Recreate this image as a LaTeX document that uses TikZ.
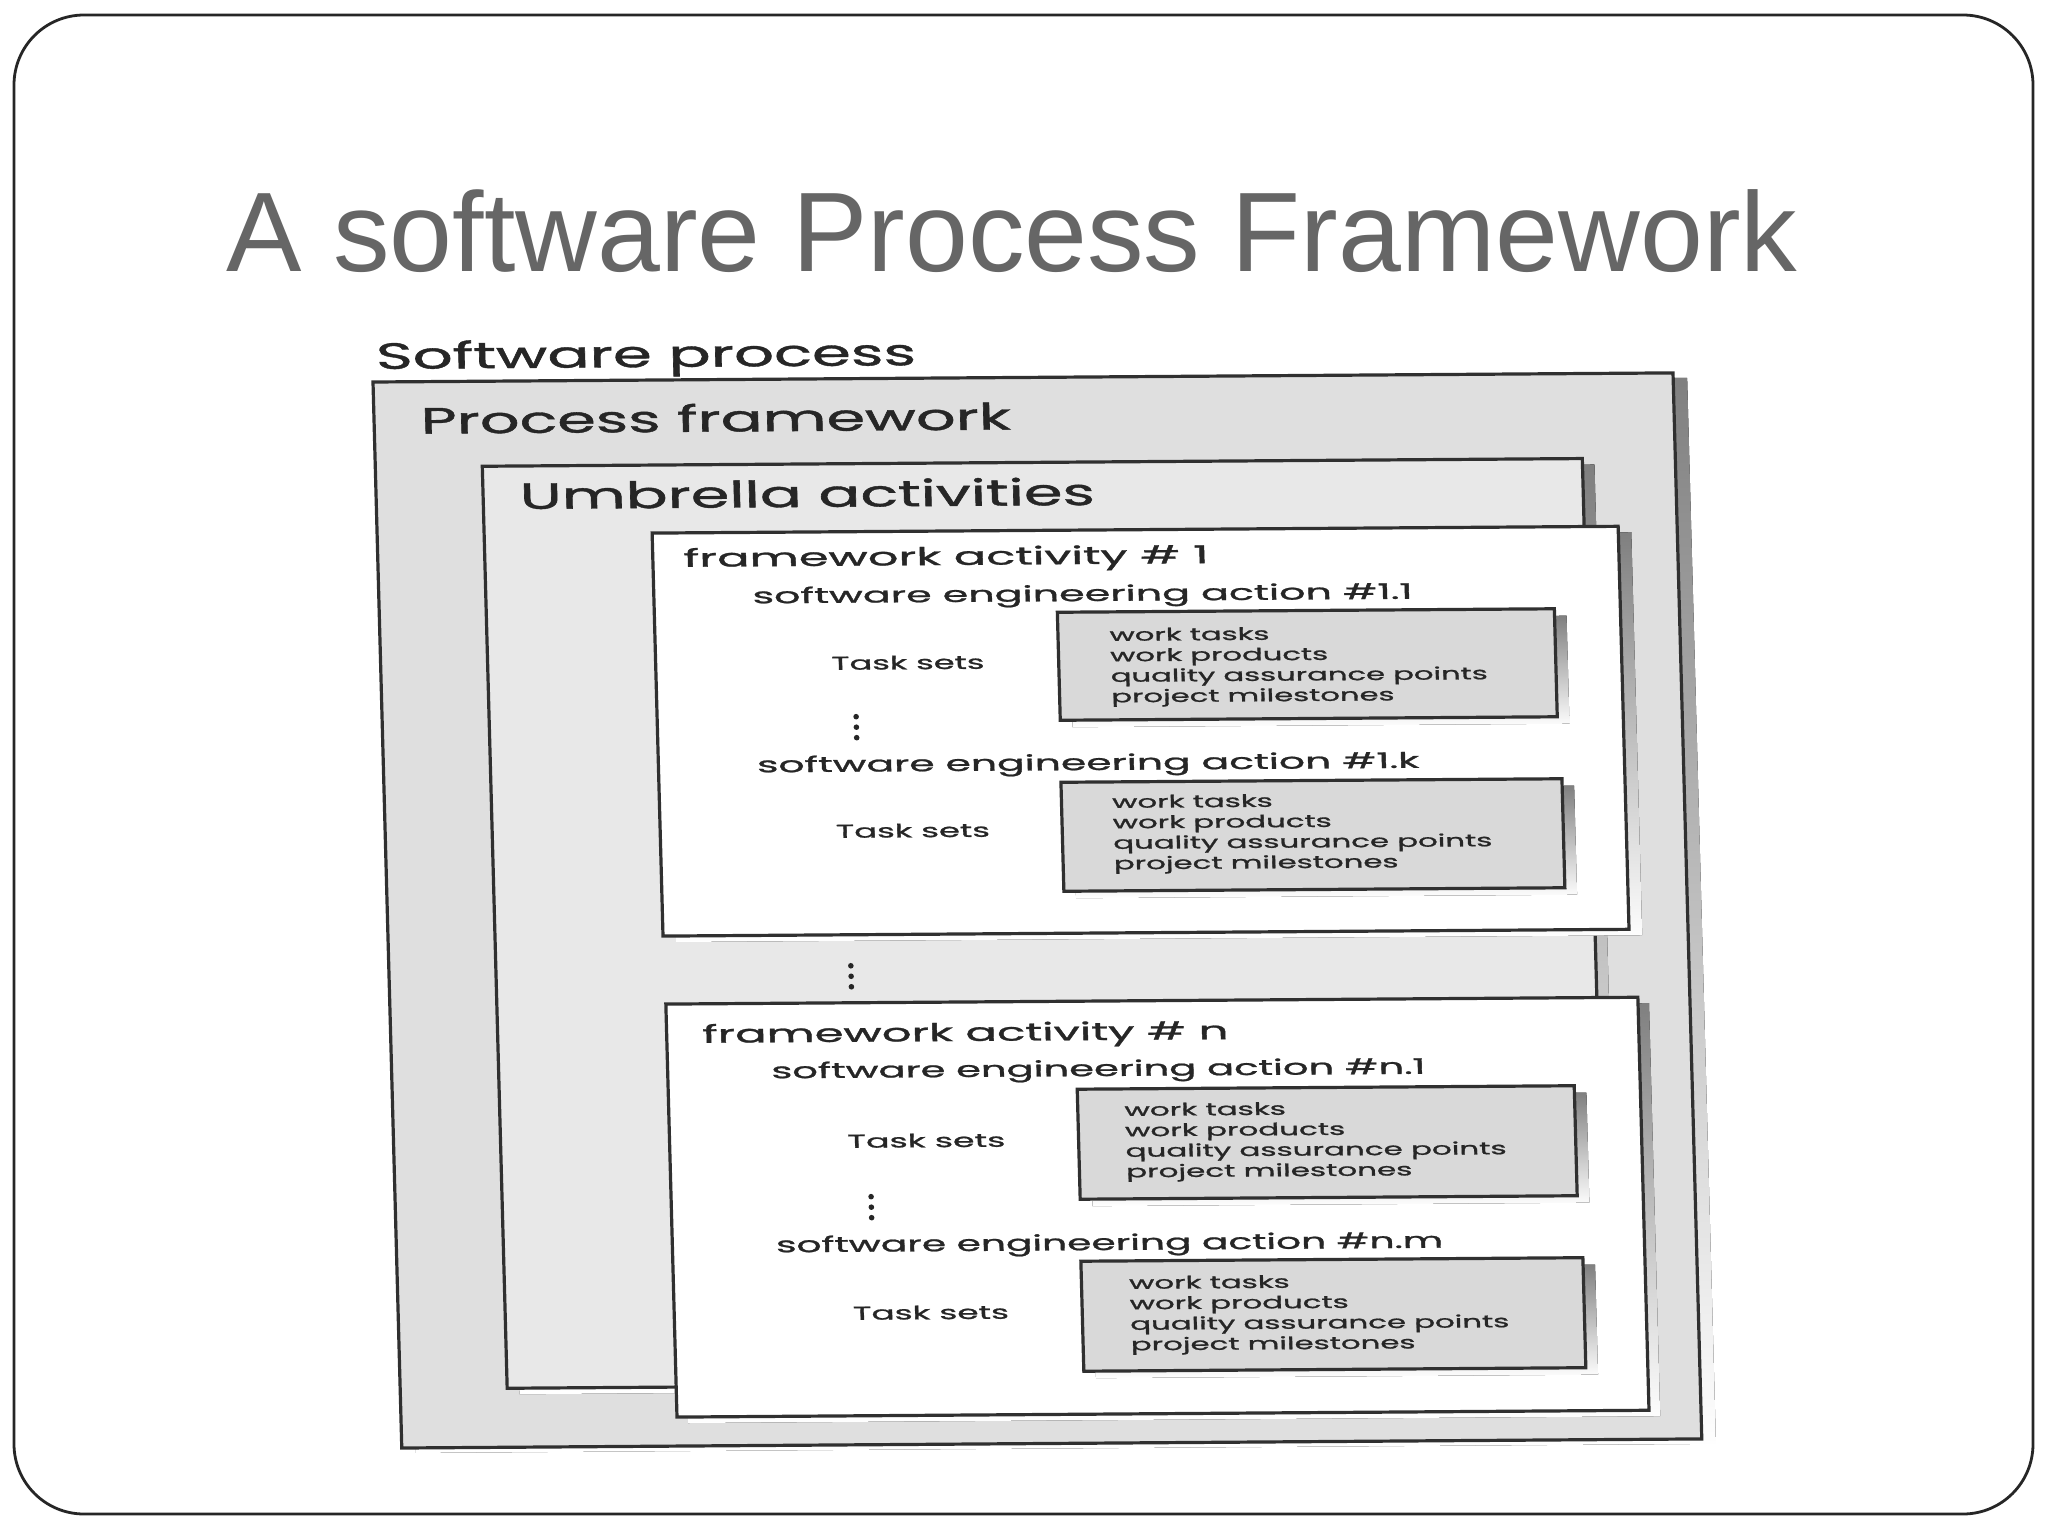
\documentclass[tikz,border=0pt]{standalone}
\usepackage{fontspec}
\setmainfont{Liberation Sans}
\newfontfamily\fut{Poppins}[FakeBold=1.0]
\usepackage{graphicx}
\newlength\pxu \setlength\pxu{0.01cm}
\newcommand{\fitw}[2]{\resizebox{#1\pxu}{\height}{#2}}
\newcommand{\fbig}{\fut\fontsize{10.4pt}{12pt}\selectfont}
\newcommand{\ffw}{\fut\fontsize{7.0pt}{8.4pt}\selectfont}
\newcommand{\fsea}{\fut\fontsize{6.1pt}{7.3pt}\selectfont}
\newcommand{\fts}{\fut\fontsize{5.3pt}{6.4pt}\selectfont}
\newcommand{\tasklist}[1]{\fitw{#1}{\fut\fontsize{4.9pt}{5.83pt}\selectfont\begin{tabular}[t]{@{}l@{}}work tasks\\work products\\quality assurance points\\project milestones\end{tabular}}}
\definecolor{titlegray}{HTML}{666666}
\definecolor{ink}{HTML}{262626}
\definecolor{edge}{HTML}{303030}
\definecolor{shade}{HTML}{3A3A3A}
\definecolor{outerfill}{HTML}{DFDFDF}
\definecolor{umbfill}{HTML}{E8E8E8}
\definecolor{taskfill}{HTML}{D9D9D9}
\tikzset{
  lbl/.style={inner sep=0pt, anchor=base west, text=ink, transform shape},
  boxline/.style={draw=edge, line width=3.2\pxu},
  slideframe/.style={draw=black!85, line width=2.8\pxu, rounded corners=70\pxu},
  titletext/.style={inner sep=0pt, anchor=base west, text=titlegray, font=\fontsize{32.15pt}{38pt}\selectfont},
  dotmark/.style={fill=ink},
}
\newcommand{\shbox}[7]{%
  \fill[shade] ({#1+#5},{#2+#6}) rectangle ({#3+#5},{#4+#6});
  \draw[boxline,fill=#7] (#1,#2) rectangle (#3,#4);}
\newcommand{\vdotsat}[2]{%
  \fill[dotmark] (#1,{#2}) circle[radius=2.8\pxu];
  \fill[dotmark] (#1,{#2+10.5}) circle[radius=2.8\pxu];
  \fill[dotmark] (#1,{#2+21}) circle[radius=2.8\pxu];}
\begin{document}
\begin{tikzpicture}[x=0.01cm,y=-0.01cm]
\useasboundingbox (0,0) rectangle (2048,1536);
\fill[white] (0,0) rectangle (2048,1536);
\draw[slideframe] (14,15) rectangle (2033,1514);
\node[titletext] (title) at (226,271) {A software Process Framework};
\begin{scope}[shift={(373,382)}, cm={1,0.007,-0.027,1,(0,0)}]
  % boxes
  \shbox{0}{0}{1300}{1066}{14}{5}{outerfill}
  \shbox{107}{85}{1207}{1007}{12}{6}{umbfill}
  \shbox{275}{153}{1241}{556}{13}{6}{white}
  \shbox{678}{235}{1175}{343}{12}{7}{taskfill}
  \shbox{677}{405}{1178}{514}{12}{7}{taskfill}
  \shbox{276}{624}{1248}{1037}{11}{6}{white}
  \shbox{685}{712}{1182}{822}{12}{7}{taskfill}
  \shbox{684}{884}{1186}{994}{12}{7}{taskfill}
  % labels
  \node[lbl] (sp) at (3,-13) {\fitw{540}{\fbig Software process}};
  \node[lbl] (pf) at (46,52) {\fitw{590}{\fbig Process framework}};
  \node[lbl] (ua) at (143,128) {\fitw{575}{\fbig Umbrella activities}};
  % framework activity 1
  \node[lbl] (fa1) at (305,187) {\fitw{525}{\ffw framework activity \# 1}};
  \node[lbl] (sea11) at (373,224) {\fitw{660}{\fsea software engineering action \#1.1}};
  \node[lbl] (ts1) at (450,291) {\fitw{153}{\fts Task sets}};
  \node[lbl] (tl1) at (729,264) {\tasklist{377}};
  \vdotsat{474}{338}
  \node[lbl] (sea1k) at (373,393) {\fitw{662}{\fsea software engineering action \#1.k}};
  \node[lbl] (ts2) at (450,459) {\fitw{154}{\fts Task sets}};
  \node[lbl] (tl2) at (727,431) {\tasklist{379}};
  % dots between activities
  \vdotsat{462}{587}
  % framework activity n
  \node[lbl] (fan) at (311,663) {\fitw{526}{\ffw framework activity \# n}};
  \node[lbl] (sean1) at (379,699) {\fitw{654}{\fsea software engineering action \#n.1}};
  \node[lbl] (ts3) at (453,769) {\fitw{158}{\fts Task sets}};
  \node[lbl] (tl3) at (731,739) {\tasklist{381}};
  \vdotsat{476}{818}
  \node[lbl] (seanm) at (379,873) {\fitw{667}{\fsea software engineering action \#n.m}};
  \node[lbl] (ts4) at (454,941) {\fitw{156}{\fts Task sets}};
  \node[lbl] (tl4) at (731,912) {\tasklist{379}};
\end{scope}
\end{tikzpicture}
\end{document}
